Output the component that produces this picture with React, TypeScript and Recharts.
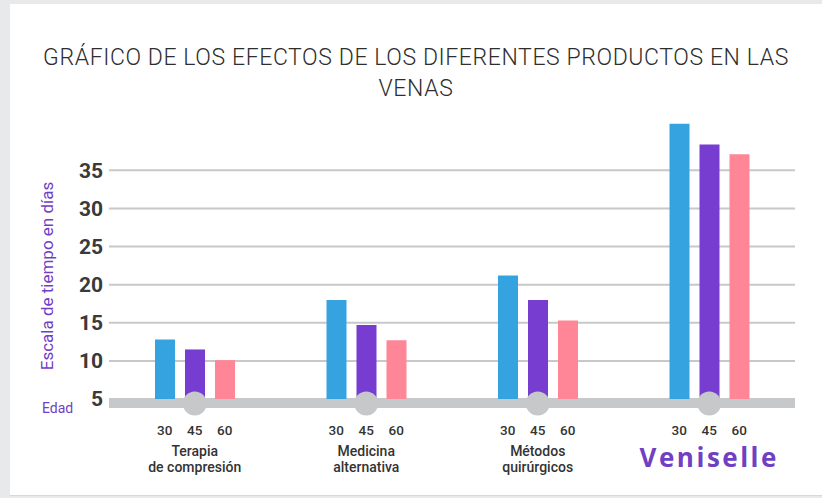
import React from 'react';
import { BarChart, Bar, XAxis, YAxis, CartesianGrid, ReferenceLine, ReferenceDot } from 'recharts';

const categories = ['Terapia de compresión', 'Medicina alternativa', 'Métodos quirúrgicos', 'Veniselle'];
const categoryLines = [['Terapia', 'de compresión'], ['Medicina', 'alternativa'], ['Métodos', 'quirúrgicos'], ['Veniselle']];
const ageLabels = ['30', '45', '60'];
const age30 = [12.8, 18.0, 21.2, 41.1];
const age45 = [11.5, 14.7, 18.0, 38.4];
const age60 = [10.1, 12.7, 15.3, 37.1];
const yTicks = [5, 10, 15, 20, 25, 30, 35];

const titleLines = ['GRÁFICO DE LOS EFECTOS DE LOS DIFERENTES PRODUCTOS EN LAS', 'VENAS'];
const yLabel = 'Escala de tiempo en días';
const ageAxisLabel = 'Edad';

const data = categories.map((c, i) => ({ name: c, a30: age30[i], a45: age45[i], a60: age60[i] }));

const BLUE = '#35a3e0';
const PURPLE = '#773dd0';
const PINK = '#fe8696';
const GRAY = '#c6c8c9';
const TEXT_PURPLE = '#7040c4';

const XTick = (props: any) => {
  const { x, y, payload, index } = props;
  const idx = categories.indexOf(payload.value);
  const lines = categoryLines[idx >= 0 ? idx : index] || [payload.value];
  const isBrand = payload.value === 'Veniselle';
  return (
    <g>
      {ageLabels.map((a, k) => (
        <text key={a} x={x + (k - 1) * 30} y={y + 36} textAnchor="middle" fontSize={13.5} fontWeight={500} fill="#333" fontFamily="Roboto">
          {a}
        </text>
      ))}
      {isBrand ? (
        <text x={x} y={y + 68} textAnchor="middle" fontSize={26} fontWeight={700} fill={TEXT_PURPLE} fontFamily="'Open Sans'" letterSpacing={2.5}>
          {lines[0]}
        </text>
      ) : (
        lines.map((l, k) => (
          <text key={k} x={x} y={y + 57 + k * 16} textAnchor="middle" fontSize={14} fontWeight={500} fill="#333" fontFamily="Roboto">
            {l}
          </text>
        ))
      )}
    </g>
  );
};

const Band = (p: any) => (
  <rect x={p.x1} y={p.y1} width={p.x2 - p.x1} height={9} fill={GRAY} />
);

const Knob = (p: any) => <circle cx={p.cx} cy={p.cy + 4.5} r={12} fill={GRAY} />;

export default function App() {
  return (
    <div style={{ position: 'fixed', left: 0, top: 0, width: 822, height: 498, background: '#e7e9eb', fontFamily: 'Roboto', overflow: 'hidden' }}>
      <div style={{ position: 'absolute', left: 10, top: 4, width: 812, height: 491, background: '#ffffff', borderBottom: '1px solid #d6d8da' }} />
      <div style={{ position: 'absolute', left: 10, top: 42, width: 812, textAlign: 'center', fontSize: 23, fontWeight: 300, lineHeight: '31px', letterSpacing: 0.6, color: '#2e2e2e' }}>
        {titleLines.map((t) => (
          <div key={t}>{t}</div>
        ))}
      </div>
      <div style={{ position: 'absolute', left: 46.5, top: 275.5, transform: 'translate(-50%, -50%) rotate(-90deg)', whiteSpace: 'nowrap', fontSize: 17, lineHeight: '17px', color: TEXT_PURPLE }}>
        {yLabel}
      </div>
      <div style={{ position: 'absolute', left: 42, top: 400, fontSize: 14, lineHeight: '16px', color: TEXT_PURPLE }}>
        {ageAxisLabel}
      </div>
      <div style={{ position: 'absolute', left: 0, top: 0 }}>
        <BarChart width={822} height={498} data={data} margin={{ top: 117, right: 27, bottom: 0, left: 49 }} barSize={20} barGap={10}>
          <CartesianGrid vertical={false} horizontalValues={yTicks} stroke="#c8c8c8" strokeWidth={2} />
          <YAxis
            domain={[5, 42]}
            ticks={yTicks}
            width={60}
            axisLine={false}
            tickLine={false}
            tickSize={4}
            tickMargin={2}
            allowDataOverflow
            tick={{ fontSize: 21, fontWeight: 700, fill: '#3a3a3a' }}
          />
          <XAxis dataKey="name" height={99} axisLine={false} tickLine={false} tickSize={0} tickMargin={0} interval={0} tick={<XTick />} />
          <Bar dataKey="a30" fill={BLUE} isAnimationActive={false} />
          <Bar dataKey="a45" fill={PURPLE} isAnimationActive={false} />
          <Bar dataKey="a60" fill={PINK} isAnimationActive={false} />
          <ReferenceLine y={5} shape={Band} />
          {categories.map((c) => (
            <ReferenceDot key={c} x={c} y={5} r={12} shape={Knob} />
          ))}
        </BarChart>
      </div>
    </div>
  );
}
